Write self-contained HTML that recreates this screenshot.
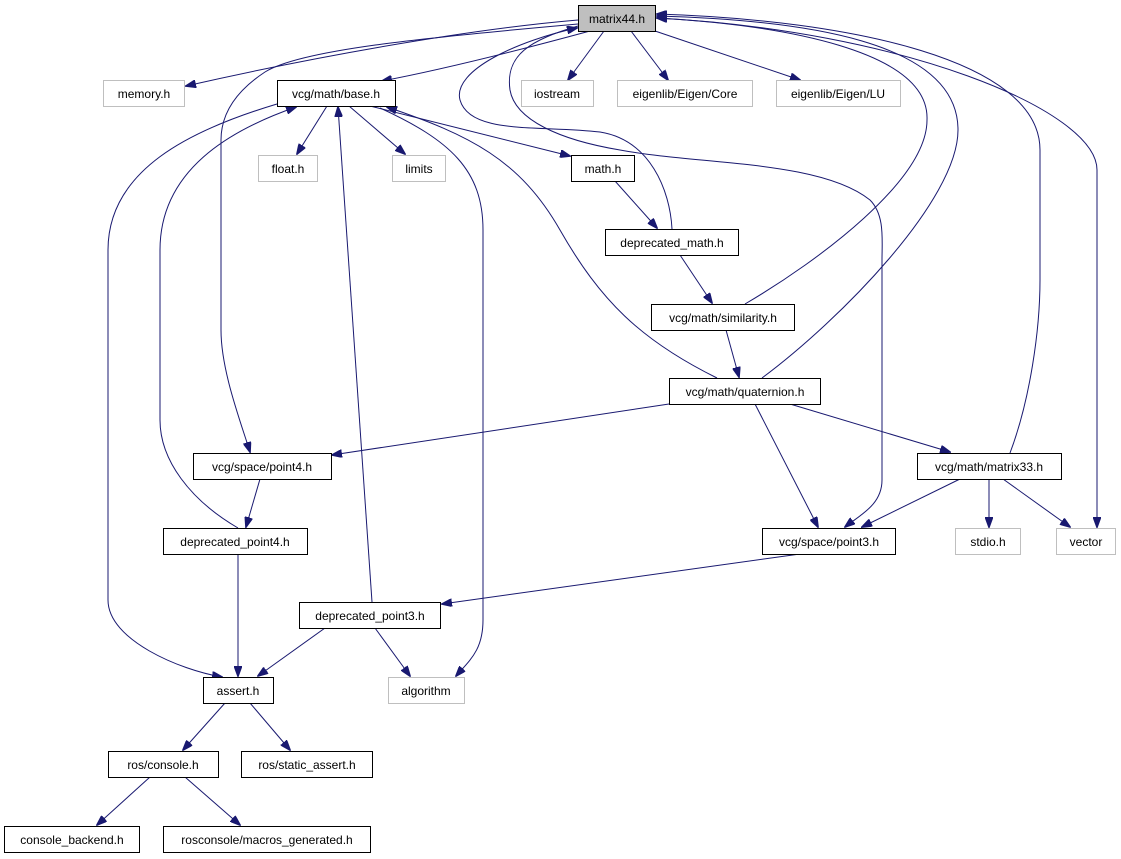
<!DOCTYPE html>
<html><head><meta charset="utf-8"><style>
html,body{margin:0;padding:0;background:#fff;}
svg{display:block;}
text{font-family:"Liberation Sans",sans-serif;font-size:12px;text-anchor:middle;fill:#000;}
.n{fill:#fff;stroke:#000;stroke-width:1;}
.g{fill:#fff;stroke:#bfbfbf;stroke-width:1;}
.e{fill:none;stroke:#191970;stroke-width:1;marker-end:url(#a);}
</style></head><body>
<svg width="1121" height="859" viewBox="0 0 1121 859" xmlns="http://www.w3.org/2000/svg">
<defs><marker id="a" markerWidth="11" markerHeight="8" refX="10" refY="4" orient="auto" markerUnits="userSpaceOnUse"><path d="M0,0 L11,4 L0,8 Z" fill="#191970" stroke="#191970"/></marker></defs>
<g>
<path class="e" d="M578,20 C460,30 300,60 186,86"/>
<path class="e" d="M590,31 C520,50 440,70 382,81"/>
<path class="e" d="M604,31 L568,80"/>
<path class="e" d="M631,31 L668,80"/>
<path class="e" d="M655,31 L800,80"/>
<path class="e" d="M655,18 C900,30 1097,110 1097,170 L1097,527"/>
<path class="e" d="M578,24 C420,38 300,50 265,72 C230,95 221,120 221,140 L221,330 C221,370 240,420 250,452"/>
<path class="e" d="M578,26 C530,40 505,55 510,90 C515,120 560,140 620,150 C700,165 820,160 870,200 C885,215 882,240 882,260 L882,480 C882,505 860,515 845,527"/>
<path class="e" d="M672,229 C670,190 650,140 600,132 C540,125 470,135 460,100 C452,70 520,40 577,28"/>
<path class="e" d="M745,304 C820,260 927,180 927,120 C930,50 780,25 657,18"/>
<path class="e" d="M762,378 C840,320 958,200 958,130 C958,40 800,20 657,16"/>
<path class="e" d="M1010,453 C1030,400 1040,330 1040,280 L1040,150 C1040,60 850,20 657,14"/>
<path class="e" d="M717,378 C640,340 600,300 560,230 C520,160 470,135 387,107"/>
<path class="e" d="M370,106 L570,156"/>
<path class="e" d="M277,104 C190,130 108,170 108,250 L108,600 C108,640 180,670 222,677"/>
<path class="e" d="M380,108 C450,140 483,170 483,230 L483,620 C483,650 470,660 456,676"/>
<path class="e" d="M327,106 L297,154"/>
<path class="e" d="M349,106 L405,154"/>
<path class="e" d="M238,528 C190,500 160,460 160,420 L160,250 C160,170 230,130 296,107"/>
<path class="e" d="M238,554 L238,676"/>
<path class="e" d="M372,602 L338,107"/>
<path class="e" d="M325,628 L258,676"/>
<path class="e" d="M375,628 L410,676"/>
<path class="e" d="M800,554 L442,604"/>
<path class="e" d="M669,404 L332,455"/>
<path class="e" d="M755,404 L818,527"/>
<path class="e" d="M790,404 L950,452"/>
<path class="e" d="M960,479 L862,527"/>
<path class="e" d="M989,479 L989,527"/>
<path class="e" d="M1003,479 L1070,527"/>
<path class="e" d="M260,479 L246,527"/>
<path class="e" d="M615,181 L657,228"/>
<path class="e" d="M680,255 L712,303"/>
<path class="e" d="M726,330 L739,377"/>
<path class="e" d="M225,703 L183,750"/>
<path class="e" d="M250,703 L290,750"/>
<path class="e" d="M150,777 L97,825"/>
<path class="e" d="M185,777 L240,825"/>
</g>
<g>
<rect x="578.5" y="5.5" width="77" height="26" fill="#bfbfbf" stroke="#000"/><text x="617" y="23">matrix44.h</text>
<rect class="g" x="103.5" y="80.5" width="81" height="26"/><text x="144" y="98" fill="#000">memory.h</text>
<rect class="n" x="277.5" y="80.5" width="118" height="26"/><text x="336" y="98">vcg/math/base.h</text>
<rect class="g" x="521.5" y="80.5" width="72" height="26"/><text x="557" y="98">iostream</text>
<rect class="g" x="617.5" y="80.5" width="135" height="26"/><text x="685" y="98">eigenlib/Eigen/Core</text>
<rect class="g" x="776.5" y="80.5" width="124" height="26"/><text x="838" y="98">eigenlib/Eigen/LU</text>
<rect class="g" x="258.5" y="155.5" width="59" height="26"/><text x="288" y="173">float.h</text>
<rect class="g" x="392.5" y="155.5" width="53" height="26"/><text x="419" y="173">limits</text>
<rect class="n" x="571.5" y="155.5" width="63" height="26"/><text x="603" y="173">math.h</text>
<rect class="n" x="605.5" y="229.5" width="133" height="26"/><text x="672" y="247">deprecated_math.h</text>
<rect class="n" x="651.5" y="304.5" width="143" height="26"/><text x="723" y="322">vcg/math/similarity.h</text>
<rect class="n" x="669.5" y="378.5" width="151" height="26"/><text x="745" y="396">vcg/math/quaternion.h</text>
<rect class="n" x="917.5" y="453.5" width="144" height="26"/><text x="989" y="471">vcg/math/matrix33.h</text>
<rect class="n" x="193.5" y="453.5" width="138" height="26"/><text x="262" y="471">vcg/space/point4.h</text>
<rect class="n" x="163.5" y="528.5" width="144" height="26"/><text x="235" y="546">deprecated_point4.h</text>
<rect class="n" x="762.5" y="528.5" width="133" height="26"/><text x="829" y="546">vcg/space/point3.h</text>
<rect class="g" x="955.5" y="528.5" width="65" height="26"/><text x="988" y="546">stdio.h</text>
<rect class="g" x="1056.5" y="528.5" width="59" height="26"/><text x="1086" y="546">vector</text>
<rect class="n" x="299.5" y="602.5" width="141" height="26"/><text x="370" y="620">deprecated_point3.h</text>
<rect class="g" x="388.5" y="677.5" width="76" height="26"/><text x="426" y="695">algorithm</text>
<rect class="n" x="203.5" y="677.5" width="70" height="26"/><text x="238" y="695">assert.h</text>
<rect class="n" x="108.5" y="751.5" width="110" height="26"/><text x="163" y="769">ros/console.h</text>
<rect class="n" x="241.5" y="751.5" width="131" height="26"/><text x="307" y="769">ros/static_assert.h</text>
<rect class="n" x="4.5" y="826.5" width="135" height="26"/><text x="72" y="844">console_backend.h</text>
<rect class="n" x="163.5" y="826.5" width="207" height="26"/><text x="267" y="844">rosconsole/macros_generated.h</text>
</g>
</svg>
</body></html>
